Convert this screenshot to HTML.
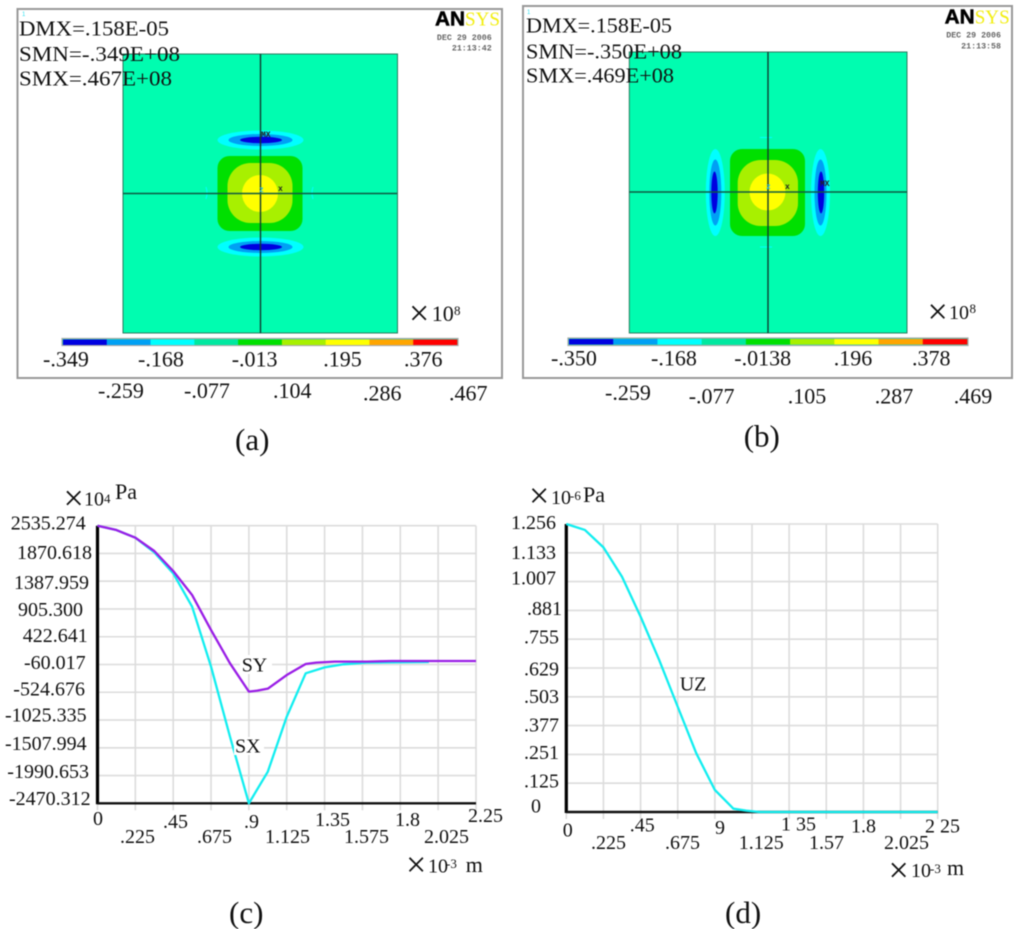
<!DOCTYPE html>
<html lang="en">
<head>
<meta charset="utf-8">
<title>ANSYS contour plots and stress and displacement curves</title>
<style>
html,body{margin:0;padding:0;background:#fff;width:1024px;height:929px;overflow:hidden}
svg{display:block;filter:blur(.45px)}
text{font-family:"Liberation Serif",serif;fill:#111}
.t{font-size:20px}
.p{font-size:22px}
.v{font-size:22px}
.s{font-size:13px}
.h{font-size:21px}
.x{font-size:36px}
.c{font-size:31px}
.d{font-family:"Liberation Mono",monospace;font-size:8.300px;font-weight:bold;fill:#666}
.l{font-family:"Liberation Sans",sans-serif;font-size:20px;font-weight:bold;fill:#000;stroke:#000;stroke-width:.5px}
.y{font-family:"Liberation Serif",serif;font-size:20px;fill:#f2ee10}
.m{font-family:"Liberation Mono",monospace;font-size:8px;font-weight:bold;fill:#222}
.o{font-family:"Liberation Sans",sans-serif;font-size:6px;fill:#30e0f0}
</style>
</head>
<body>
<svg id="figure" width="1024" height="929" viewBox="0 0 1024 929" xmlns="http://www.w3.org/2000/svg">
<rect width="1024" height="929" fill="#fff"/>

<g id="panel-a">
  <rect x="17.5" y="9" width="484.5" height="369" fill="#fff" stroke="#989898" stroke-width="2"/>
  <text class="o" x="22" y="16">1</text>
  <rect x="123" y="54" width="274.5" height="279" fill="#00fdb0" stroke="#2c7a60" stroke-width="1"/>
  <ellipse cx="260.5" cy="140" rx="43" ry="9.500" fill="#00ffff"/>
  <ellipse cx="260.5" cy="140" rx="32" ry="6" fill="#00a0f4"/>
  <ellipse cx="261" cy="140" rx="21" ry="3.200" fill="#0000e0"/>
  <ellipse cx="260.5" cy="247" rx="43" ry="9.500" fill="#00ffff"/>
  <ellipse cx="260.5" cy="247" rx="32" ry="6" fill="#00a0f4"/>
  <ellipse cx="261" cy="247" rx="21" ry="3.200" fill="#0000e0"/>
  <rect x="217.5" y="156" width="85" height="75" rx="12" fill="#00e000"/>
  <rect x="227.5" y="163" width="65" height="60" rx="23" fill="#a8f000"/>
  <ellipse cx="260" cy="193.5" rx="18" ry="18.500" fill="#ffff00"/>
  <path d="M206 187q2 6 0 12M313 187q-2 6 0 12" fill="none" stroke="#00ffff" stroke-width="1"/>
  <line x1="260.5" y1="54" x2="260.5" y2="333" stroke="#0f3a30" stroke-width="1.4"/>
  <line x1="123" y1="193.5" x2="397" y2="193.5" stroke="#0f5a42" stroke-width="1.6"/>
  <text class="m" x="261" y="137">MX</text>
  <text class="m" x="278" y="191">x</text>
  <text class="m" style="fill:#30c0e0" x="259" y="192">z</text>
  <text class="h" x="19" y="35.7" textLength="150" lengthAdjust="spacingAndGlyphs">DMX=.158E-05</text>
  <text class="h" x="19" y="61" textLength="161" lengthAdjust="spacingAndGlyphs">SMN=-.349E+08</text>
  <text class="h" x="19" y="85.3" textLength="153" lengthAdjust="spacingAndGlyphs">SMX=.467E+08</text>
  <text class="l" x="435" y="25.7" textLength="30" lengthAdjust="spacingAndGlyphs">AN</text>
  <text class="y" x="465" y="25.7" textLength="35" lengthAdjust="spacingAndGlyphs">SYS</text>
  <text class="d" x="491.7" y="40" text-anchor="end">DEC 29 2006</text>
  <text class="d" x="491.7" y="50.7" text-anchor="end">21:13:42</text>
  <text class="x" x="409" y="325">×</text>
  <text class="v" x="431.7" y="321">10</text>
  <text class="s" x="454" y="315">8</text>
  <rect x="62" y="338.500" width="396" height="7" fill="#00e8a0" stroke="#aaa" stroke-width="1.2"/>
  <g id="colorbar-a"></g>
  <text class="v" x="43" y="366.7">-.349</text>
  <text class="v" x="138" y="366.7">-.168</text>
  <text class="v" x="231.7" y="366.7">-.013</text>
  <text class="v" x="323.3" y="366.7">.195</text>
  <text class="v" x="404" y="366.7">.376</text>
  <text class="v" x="98" y="398">-.259</text>
  <text class="v" x="184" y="398">-.077</text>
  <text class="v" x="273" y="398">.104</text>
  <text class="v" x="363" y="400.7">.286</text>
  <text class="v" x="449" y="400.7">.467</text>
  <text class="c" x="235" y="450">(a)</text>
</g>

<g id="panel-b">
  <rect x="523" y="6" width="489" height="372" fill="#fff" stroke="#989898" stroke-width="2"/>
  <text class="o" x="527" y="14">1</text>
  <rect x="629.3" y="52" width="277.7" height="281" fill="#00fdb0" stroke="#2c7a60" stroke-width="1"/>
  <ellipse cx="715.3" cy="192.5" rx="9.500" ry="43.5" fill="#00ffff"/>
  <ellipse cx="715.3" cy="192.5" rx="6" ry="33" fill="#00a0f4"/>
  <ellipse cx="714.5" cy="192.5" rx="3.200" ry="21" fill="#0000e0"/>
  <ellipse cx="820.5" cy="192.5" rx="9.500" ry="43.5" fill="#00ffff"/>
  <ellipse cx="820.5" cy="192.5" rx="6" ry="33" fill="#00a0f4"/>
  <ellipse cx="821" cy="192.5" rx="3.200" ry="21" fill="#0000e0"/>
  <rect x="730" y="149" width="75" height="87" rx="12" fill="#00e000"/>
  <rect x="737.7" y="160" width="60.3" height="66" rx="23" fill="#a8f000"/>
  <ellipse cx="767.500" cy="192" rx="18" ry="18.500" fill="#ffff00"/>
  <path d="M760 137.500h12M760 247h12" fill="none" stroke="#00ffff" stroke-width="1"/>
  <line x1="768" y1="52" x2="768" y2="333" stroke="#0f3a30" stroke-width="1.4"/>
  <line x1="629.3" y1="192" x2="907" y2="192" stroke="#0f5a42" stroke-width="1.6"/>
  <text class="m" x="820" y="186">MX</text>
  <text class="m" x="785" y="189">x</text>
  <text class="m" style="fill:#30c0e0" x="766" y="189">z</text>
  <text class="h" x="526" y="32.3" textLength="146" lengthAdjust="spacingAndGlyphs">DMX=.158E-05</text>
  <text class="h" x="526" y="58.3" textLength="156" lengthAdjust="spacingAndGlyphs">SMN=-.350E+08</text>
  <text class="h" x="526" y="82.3" textLength="148" lengthAdjust="spacingAndGlyphs">SMX=.469E+08</text>
  <text class="l" x="944.7" y="23.3" textLength="30" lengthAdjust="spacingAndGlyphs">AN</text>
  <text class="y" x="974.7" y="23.3" textLength="35" lengthAdjust="spacingAndGlyphs">SYS</text>
  <text class="d" x="1001" y="37.3" text-anchor="end">DEC 29 2006</text>
  <text class="d" x="1001" y="48.7" text-anchor="end">21:13:58</text>
  <text class="x" x="927.500" y="323.500">×</text>
  <text class="t" x="949" y="319">10</text>
  <text class="s" x="969.500" y="313">8</text>
  <rect x="568" y="338" width="400" height="7.500" fill="#00e8a0" stroke="#aaa" stroke-width="1.2"/>
  <g id="colorbar-b"></g>
  <text class="v" x="551" y="365.7">-.350</text>
  <text class="v" x="651" y="365.7">-.168</text>
  <text class="v" x="734.3" y="365.7">-.0138</text>
  <text class="v" x="833.7" y="365.7">.196</text>
  <text class="v" x="912" y="365.7">.378</text>
  <text class="v" x="605" y="400">-.259</text>
  <text class="v" x="688.7" y="403.3">-.077</text>
  <text class="v" x="787.7" y="403.3">.105</text>
  <text class="v" x="874.7" y="403.3">.287</text>
  <text class="v" x="953.7" y="403.3">.469</text>
  <text class="c" x="743.7" y="446.7">(b)</text>
</g>

<g id="panel-c">
  <g id="chart-c-grid"></g>
  <g id="chart-c-axes"></g>
  <g id="chart-c-lines"></g>
  <text class="x" x="63.500" y="510">×</text>
  <text class="t" x="84" y="505.7">10</text>
  <text class="s" x="104" y="503">4</text>
  <text class="p" x="115" y="499">Pa</text>
  <text class="t" x="10.7" y="529.3">2535.274</text>
  <text class="t" x="17" y="559">1870.618</text>
  <text class="t" x="14" y="589">1387.959</text>
  <text class="t" x="18" y="616">905.300</text>
  <text class="t" x="22.7" y="642">422.641</text>
  <text class="t" x="24" y="669">-60.017</text>
  <text class="t" x="13.3" y="695.7">-524.676</text>
  <text class="t" x="5" y="721.7">-1025.335</text>
  <text class="t" x="5" y="750">-1507.994</text>
  <text class="t" x="7.3" y="778">-1990.653</text>
  <text class="t" x="9" y="805">-2470.312</text>
  <text class="t" x="93" y="825">0</text>
  <text class="t" x="120" y="843">.225</text>
  <text class="t" x="163" y="828">.45</text>
  <text class="t" x="197" y="843">.675</text>
  <text class="t" x="244" y="828">.9</text>
  <text class="t" x="265" y="843">1.125</text>
  <text class="t" x="315" y="826">1.35</text>
  <text class="t" x="344" y="843">1.575</text>
  <text class="t" x="395" y="826">1.8</text>
  <text class="t" x="424" y="843">2.025</text>
  <text class="t" x="468" y="822">2.25</text>
  <text class="x" x="406" y="876.500">×</text>
  <text class="t" x="428" y="872.7">10</text>
  <text class="s" x="446" y="868">-3</text>
  <text class="p" x="465.700" y="872">m</text>
  <rect x="240" y="655" width="32" height="19" fill="#fff"/>
  <text class="t" x="241.7" y="671.7">SY</text>
  <rect x="234" y="737" width="30" height="18" fill="#fff"/>
  <text class="t" x="235" y="752.7">SX</text>
  <text class="c" x="229" y="923">(c)</text>
</g>

<g id="panel-d">
  <g id="chart-d-grid"></g>
  <g id="chart-d-axes"></g>
  <g id="chart-d-lines"></g>
  <text class="x" x="529" y="507.500">×</text>
  <text class="t" x="551" y="504">10</text>
  <text class="s" x="570" y="500">-6</text>
  <text class="p" x="583" y="502">Pa</text>
  <text class="t" x="511" y="529">1.256</text>
  <text class="t" x="511" y="559">1.133</text>
  <text class="t" x="511" y="584.500">1.007</text>
  <text class="t" x="527" y="615">.881</text>
  <text class="t" x="524" y="643.7">.755</text>
  <text class="t" x="524" y="675.7">.629</text>
  <text class="t" x="524" y="703">.503</text>
  <text class="t" x="524" y="731.7">.377</text>
  <text class="t" x="524" y="759">.251</text>
  <text class="t" x="524" y="787.7">.125</text>
  <text class="t" x="531" y="812.7">0</text>
  <text class="t" x="562.7" y="836.7">0</text>
  <text class="t" x="591" y="849">.225</text>
  <text class="t" x="629.7" y="831.7">.45</text>
  <text class="t" x="665" y="849">.675</text>
  <text class="t" x="715" y="834">9</text>
  <text class="t" x="738.7" y="849">1.125</text>
  <text class="t" x="781" y="830.7">1 35</text>
  <text class="t" x="809" y="849">1.57</text>
  <text class="t" x="851" y="832.7">1.8</text>
  <text class="t" x="884" y="849">2.025</text>
  <text class="t" x="925" y="832.7">2 25</text>
  <text class="x" x="888.500" y="881.800">×</text>
  <text class="t" x="911" y="877">10</text>
  <text class="s" x="930" y="873">-3</text>
  <text class="p" x="947" y="875">m</text>
  <text class="t" x="679.7" y="690.7">UZ</text>
  <text class="c" x="725" y="923">(d)</text>
</g>
</svg>

<script>
// Colour bar bands
var contourColors = ['#0000e0', '#00a0f4', '#00ffff', '#00e8a0', '#00e000', '#a8f000', '#ffff00', '#ffa500', '#ff0000'];

// Chart (c): stress along the path, x in 10^-3 m, y in 10^4 Pa
var stressXTicks = [0, 0.225, 0.45, 0.675, 0.9, 1.125, 1.35, 1.575, 1.8, 2.025, 2.25];
var stressYTicks = ['2535.274', '1870.618', '1387.959', '905.300', '422.641', '-60.017', '-524.676', '-1025.335', '-1507.994', '-1990.653', '-2470.312'];
var syDistance = [0, 0.1125, 0.225, 0.3375, 0.45, 0.5625, 0.675, 0.7875, 0.9, 0.95, 1.0125, 1.125, 1.2375, 1.3, 1.41, 1.6, 1.75, 2.25];
var syStress = [2535, 2457, 2319, 2079, 1718, 1285, 654, 54, -457, -439, -403, -157, 42, 66, 84, 84, 96, 96];
var sxDistance = [0, 0.1125, 0.225, 0.3375, 0.45, 0.5625, 0.675, 0.7875, 0.9, 1.0125, 1.125, 1.2375, 1.35, 1.4625, 1.6, 1.97];
var sxStress = [2535, 2457, 2319, 2055, 1676, 1075, -7, -1268, -2470, -1900, -908, -127, -19, 36, 66, 78];

// Chart (d): displacement along the path, x in 10^-3 m, y in 10^-6
var dispXTicks = [0, 0.225, 0.45, 0.675, 0.9, 1.125, 1.35, 1.575, 1.8, 2.025, 2.25];
var dispYTicks = ['1.256', '1.133', '1.007', '.881', '.755', '.629', '.503', '.377', '.251', '.125', '0'];
var uzDistance = [0, 0.1125, 0.225, 0.3375, 0.45, 0.5625, 0.675, 0.7875, 0.9, 1.0125, 1.09, 1.17, 2.25];
var uzDisplacement = [1.256, 1.23, 1.154, 1.026, 0.852, 0.663, 0.459, 0.256, 0.096, 0.0145, 0.006, 0, 0];

var SVG_NS = 'http://www.w3.org/2000/svg';

function linearScale(d0, d1, r0, r1) {
  return function (v) { return r0 + (v - d0) / (d1 - d0) * (r1 - r0); };
}

function shape(tag, parentId, attrs) {
  var el = document.createElementNS(SVG_NS, tag);
  Object.keys(attrs).forEach(function (k) { el.setAttribute(k, attrs[k]); });
  document.getElementById(parentId).appendChild(el);
  return el;
}

function drawColorbar(parentId, left, top, width, height) {
  var step = width / contourColors.length;
  contourColors.forEach(function (color, i) {
    var band = shape('rect', parentId, { x: left + i * step, y: top, width: step + 0.3, height: height, fill: color });
    
    
  });
}

function drawGrid(parentId, xTicks, yTicks, xScale, top, bottom, left, right) {
  xTicks.forEach(function (t) {
    var line = shape('line', parentId, { x1: xScale(t), x2: xScale(t), y1: top, y2: bottom + 7, stroke: '#dcdcdc', 'stroke-width': 1.6 });
    
    
  });
  yTicks.forEach(function (t, i) {
    var y = top + i * (bottom - top) / (yTicks.length - 1);
    var line = shape('line', parentId, { x1: left, x2: right, y1: y, y2: y, stroke: '#dcdcdc', 'stroke-width': 1.6 });
    
    
  });
}

function drawAxes(parentId, left, right, top, bottom) {
  var yAxis = shape('line', parentId, { x1: left, x2: left, y1: top, y2: bottom + 1, stroke: '#000', 'stroke-width': 3.2 });
  
  
  var xAxis = shape('line', parentId, { x1: left, x2: right, y1: bottom, y2: bottom, stroke: '#111', 'stroke-width': 2.4 });
  
  
}

function linePoints(xs, ys, xScale, yScale) {
  return xs.map(function (v, i) { return xScale(v).toFixed(2) + ',' + yScale(ys[i]).toFixed(2); }).join(' ');
}

drawColorbar('colorbar-a', 63, 339.5, 394, 5.5);
drawColorbar('colorbar-b', 569, 339, 398, 5.5);

var cx = linearScale(0, 2.25, 97.5, 476);
var cy = linearScale(-2470.312, 2535.274, 803.3, 525.7);
drawGrid('chart-c-grid', stressXTicks, stressYTicks, cx, 525.7, 803.3, 97.5, 476);
drawAxes('chart-c-axes', 97.5, 476, 525.7, 803.3);

var sxLine = shape('polyline', 'chart-c-lines', { points: linePoints(sxDistance, sxStress, cx, cy), fill: 'none', stroke: '#12eef0', 'stroke-width': 2.3, 'stroke-linejoin': 'round' });


var syLine = shape('polyline', 'chart-c-lines', { points: linePoints(syDistance, syStress, cx, cy), fill: 'none', stroke: '#9a1ee6', 'stroke-width': 2.3, 'stroke-linejoin': 'round' });



var dx = linearScale(0, 2.25, 566.3, 937.7);
var dy = linearScale(0, 1.256, 812, 524);
drawGrid('chart-d-grid', dispXTicks, dispYTicks, dx, 524, 812, 566.3, 937.7);
drawAxes('chart-d-axes', 566.3, 937.7, 524, 812);

var uzLine = shape('polyline', 'chart-d-lines', { points: linePoints(uzDistance, uzDisplacement, dx, dy), fill: 'none', stroke: '#12eef0', 'stroke-width': 2.3, 'stroke-linejoin': 'round' });


</script>
</body>
</html>
